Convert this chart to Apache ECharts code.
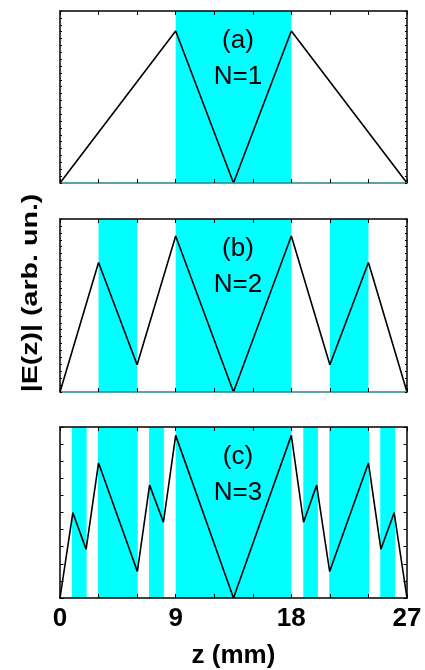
<!DOCTYPE html>
<html>
<head>
<meta charset="utf-8">
<script src="https://cdn.jsdelivr.net/npm/echarts@6/dist/echarts.min.js"></script>
<style>
html,body{margin:0;padding:0;background:#fff;}
#chart{width:425px;height:670px;}
</style>
</head>
<body>
<div id="chart"></div>
<script>
// ---- data ----
const zA = [0, 9, 13.5, 18, 27];
const eA = [0, 0.884, 0, 0.884, 0];
const layersA = [[9, 18]];

const zB = [0, 3, 6, 9, 13.5, 18, 21, 24, 27];
const eB = [0, 0.749, 0.158, 0.902, 0, 0.902, 0.158, 0.749, 0];
const layersB = [[3, 6], [9, 18], [21, 24]];

const zC = [0, 1, 2.03, 3, 6.02, 6.97, 8.05, 9, 13.5, 18, 18.95, 19.97, 20.98, 24, 24.97, 26, 27];
const eC = [0, 0.499, 0.285, 0.790, 0.155, 0.660, 0.443, 0.951, 0, 0.951, 0.443, 0.660, 0.155, 0.790, 0.285, 0.499, 0];
const layersC = [[0.93, 2.07], [2.95, 6.05], [6.93, 8.08], [9, 18], [18.93, 20.07], [20.95, 24.05], [24.92, 26.07]];

const panelLabels = ['(a)', '(b)', '(c)'];
const panelN = ['N=1', 'N=2', 'N=3'];
const xLabelTicks = [0, 9, 18, 27];
const xName = 'z (mm)';
const yName = '|E(z)| (arb. un.)';

// ---- layout ----
const grids = [
  {left: 60, right: 18, top: 11, height: 172},
  {left: 60, right: 18, top: 219, height: 173},
  {left: 60, right: 18, top: 427, height: 171}
];
const panels = [
  {z: zA, e: eA, layers: layersA, yInt: 0.04, yTick: 2, bottomColor: '#2a8585'},
  {z: zB, e: eB, layers: layersB, yInt: 0.04, yTick: 2, bottomColor: '#2a8585'},
  {z: zC, e: eC, layers: layersC, yInt: 0.1, yTick: 3.5, bottomColor: '#000'}
];

const xAxis = [], yAxis = [], series = [], title = [];
panels.forEach((p, i) => {
  const isLast = i === 2;
  xAxis.push({
    type: 'value', gridIndex: i, min: 0, max: 27, interval: 3, position: 'bottom', z: 5,
    axisLine: {show: true, onZero: false, lineStyle: {color: p.bottomColor, width: 1.5}},
    axisTick: {show: true, inside: true, length: 4, lineStyle: {color: '#000', width: 1}},
    splitLine: {show: false},
    axisLabel: {
      show: isLast, margin: 8, fontSize: 26, fontWeight: 'bold', color: '#000',
      fontFamily: 'Liberation Sans, Arial, sans-serif',
      formatter: v => (xLabelTicks.indexOf(v) >= 0 ? String(v) : '')
    },
    name: isLast ? xName : '', nameLocation: 'middle', nameGap: 45,
    nameTextStyle: {fontSize: 26, fontWeight: 'bold', color: '#000', fontFamily: 'Liberation Sans, Arial, sans-serif'}
  });
  xAxis.push({
    type: 'value', gridIndex: i, min: 0, max: 27, interval: 3, position: 'top', z: 5,
    axisLine: {show: true, onZero: false, lineStyle: {color: '#000', width: 1.5}},
    axisTick: {show: true, inside: true, length: 4, lineStyle: {color: '#000', width: 1}},
    splitLine: {show: false}, axisLabel: {show: false}
  });
  ['left', 'right'].forEach(pos => {
    yAxis.push({
      type: 'value', gridIndex: i, min: 0, max: 1, interval: p.yInt, position: pos, z: 5,
      axisLine: {show: true, onZero: false, lineStyle: {color: '#000', width: 1.5}},
      axisTick: {show: true, inside: true, length: p.yTick, lineStyle: {color: '#000', width: 1}},
      splitLine: {show: false}, axisLabel: {show: false}
    });
  });
  series.push({
    type: 'line', xAxisIndex: i * 2, yAxisIndex: i * 2, z: 3,
    data: p.z.map((zz, k) => [zz, p.e[k]]),
    symbol: 'none', lineStyle: {color: '#000', width: 1.6}, silent: true,
    markArea: {
      silent: true,
      itemStyle: {color: '#00ffff', opacity: 1},
      data: p.layers.map(l => [{xAxis: l[0]}, {xAxis: l[1]}])
    }
  });
  title.push({
    text: panelLabels[i] + '\n' + panelN[i],
    left: 233, top: grids[i].top + 7, textAlign: 'center',
    textStyle: {fontSize: 26, fontWeight: 'normal', color: '#000', lineHeight: 36,
      fontFamily: 'Liberation Sans, Arial, sans-serif'}
  });
});

const chart = echarts.init(document.getElementById('chart'), null, {renderer: 'canvas'});
chart.setOption({
  animation: false,
  backgroundColor: '#fff',
  title: title,
  grid: grids,
  xAxis: xAxis,
  yAxis: yAxis,
  series: series,
  graphic: [{
    type: 'text', x: 31, y: 293, rotation: Math.PI / 2, scaleX: 1.3,
    style: {text: yName, fontSize: 22, fontWeight: 'bold', fill: '#000',
      fontFamily: 'Liberation Sans, Arial, sans-serif', align: 'center', verticalAlign: 'middle'}
  }]
});
</script>
</body>
</html>
